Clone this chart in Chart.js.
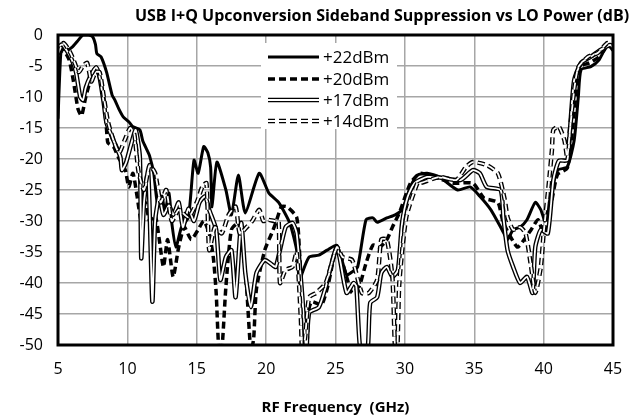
<!DOCTYPE html>
<html>
<head>
<meta charset="utf-8">
<script src="https://cdn.jsdelivr.net/npm/chart.js@4.4.1/dist/chart.umd.min.js"></script>
<style>
  html, body { margin: 0; padding: 0; background: #fff; }
  #wrap { width: 640px; height: 417px; }
</style>
</head>
<body>
<div id="wrap"><canvas id="c" width="640" height="417"></canvas></div>
<script>
const chartTitle = 'USB I+Q Upconversion Sideband Suppression vs LO Power (dB)'
const xTitle = 'RF Frequency  (GHz)'
const seriesLabels = ['+22dBm', '+20dBm', '+17dBm', '+14dBm']
const xTicks = [5, 10, 15, 20, 25, 30, 35, 40, 45]
const yTicks = [0, -5, -10, -15, -20, -25, -30, -35, -40, -45, -50]

// +22 dBm
const freq22 = [5, 5.2, 5.4, 5.6, 6, 6.4, 6.8, 7.2, 7.5, 7.7, 7.8, 8.1, 8.5, 8.9, 9.1, 9.4, 9.7, 10.1, 10.4, 10.9, 11.1, 11.4, 11.6, 11.9, 12.2, 12.5, 12.7, 13, 13.2, 13.5, 13.9, 14.4, 14.8, 15.1, 15.5, 15.8, 16, 16.1, 16.45, 17.1, 17.5, 18, 18.5, 19.5, 20.2, 20.9, 21.7, 22.2, 22.4, 22.6, 23.1, 23.8, 24.4, 25.1, 25.8, 26.2, 26.6, 27.2, 27.7, 28, 28.7, 29.3, 29.8, 30.4, 30.9, 31.6, 32.5, 33.8, 34.7, 35.4, 36.2, 37, 37.4, 37.8, 38.3, 38.8, 39.4, 39.8, 40.1, 40.5, 41, 41.7, 42.2, 42.5, 42.7, 43.4, 44, 44.6, 45]
const supp22 = [-13.5, -3, -2, -2.5, -2, -1, 0, 0, -0.3, -1.5, -3, -3.5, -6, -9.7, -10.5, -12, -13.2, -14, -14.8, -15.3, -17, -18.5, -19.5, -22.3, -27.7, -26, -28.7, -25.5, -30.3, -34.2, -31, -29.4, -20.2, -22.3, -18, -19, -21.3, -27.7, -20.5, -25, -29, -22.6, -28.7, -22.3, -25.5, -27, -30.3, -34.7, -40, -38.4, -35.8, -35.5, -34.7, -33.9, -38.7, -38.2, -37.4, -29.8, -29.5, -30.2, -29.5, -29, -28.2, -24.5, -22.6, -22.3, -22.9, -25, -24.5, -26, -28.2, -31.4, -33, -31.4, -31, -29.8, -27, -28.2, -30, -26, -21.8, -21.3, -17, -10, -5.6, -5.1, -4, -1.6, -2.5]

// +20 dBm
const freq20 = [5, 5.4, 5.8, 6.1, 6.45, 6.7, 7, 7.5, 7.75, 8, 8.3, 8.5, 8.6, 9, 9.35, 9.85, 10.1, 10.4, 10.7, 11, 11.3, 11.6, 12, 12.3, 12.6, 12.9, 13.3, 13.7, 14.1, 14.6, 15.1, 15.5, 15.9, 16.2, 16.4, 16.6, 16.8, 17.1, 17.5, 18, 18.3, 18.6, 18.9, 19.1, 19.3, 19.9, 20.4, 20.7, 21.1, 21.5, 22.2, 22.4, 22.6, 22.9, 23.1, 23.3, 24, 24.5, 25.1, 25.8, 26.2, 26.7, 27.2, 27.7, 28.2, 28.7, 29.1, 29.6, 30.4, 31.1, 32, 33.5, 34.9, 35.7, 36.7, 37.1, 38.1, 38.6, 39.1, 39.6, 40, 40.6, 41, 41.7, 42.1, 42.4, 42.7, 43.3, 44, 44.6, 45]
const supp20 = [-3, -2.5, -4, -7.3, -12, -13, -10, -6, -5.2, -7, -10, -15.3, -17.4, -18, -19.7, -21.8, -24.5, -22.3, -26, -30, -27, -30, -29, -33, -37.4, -33, -39, -34.2, -31, -33, -31.4, -30, -32, -36, -41.6, -51, -51, -40.6, -31.4, -30.3, -34, -41, -51, -49, -41, -34.7, -32, -30.3, -27.7, -27.7, -29.4, -34.7, -42.7, -51, -44, -43, -43.5, -40, -34.2, -39, -41.6, -40.6, -36.8, -33.9, -34.2, -33, -31, -28.7, -23.9, -22.3, -22.8, -23.9, -23.9, -26.3, -27, -30.3, -34.2, -33, -31.4, -29.8, -32, -26.6, -22.5, -21.5, -15, -8, -5, -4.5, -3.5, -1.8, -2]

// +17 dBm
const freq17 = [5, 5.3, 5.6, 6, 6.3, 6.6, 6.8, 7, 7.3, 7.75, 8, 8.3, 8.5, 9, 9.5, 9.6, 9.9, 10.3, 10.6, 10.9, 11, 11.2, 11.5, 11.8, 12, 12.3, 12.6, 13, 13.3, 13.7, 14, 14.4, 14.8, 15.2, 15.6, 15.9, 16.4, 16.7, 17.1, 17.5, 17.8, 18.2, 18.5, 18.9, 19.3, 19.9, 20.4, 20.7, 21.4, 21.9, 22.2, 22.6, 22.9, 23.1, 23.8, 24.3, 25.1, 25.8, 26.3, 26.5, 26.8, 27.3, 27.5, 28, 28.3, 28.7, 29.1, 29.5, 29.8, 30.2, 30.7, 31.6, 32.5, 34, 34.9, 35.4, 35.9, 36.9, 37.1, 37.4, 37.8, 38.3, 38.8, 39.2, 39.4, 39.8, 40.3, 40.7, 41.1, 41.7, 41.9, 42.2, 42.7, 43.4, 44.1, 44.8, 45]
const supp17 = [-2, -1.5, -2.4, -4, -6, -10, -10.5, -8.5, -6.8, -5.2, -6.8, -11, -14.2, -17, -19.7, -21.8, -20.6, -17.4, -15.3, -19.7, -36, -27, -22, -43, -30, -26, -29, -27.5, -29, -27, -31, -28, -30, -27, -26, -28.2, -31.4, -39.5, -35.8, -34.7, -42.3, -30.3, -38.4, -43.9, -38.4, -36.3, -37, -37.4, -31, -30.3, -32, -42, -51, -44.8, -43.9, -40.6, -34.3, -41.6, -40, -40.5, -51, -51, -43.2, -42.3, -38.4, -37.4, -39, -37.9, -30.3, -26.1, -23.9, -22.9, -23, -23.4, -21.8, -22.3, -24.5, -25, -29.4, -34.7, -37.4, -40, -39, -41.6, -34.2, -31.4, -32, -23.4, -20.3, -20.2, -15.3, -7.3, -4.5, -3.5, -2.4, -1.6, -2]

// +14 dBm
const freq14 = [5, 5.4, 5.9, 6.2, 6.5, 6.8, 7.1, 7.4, 7.7, 8, 8.3, 8.6, 9, 9.4, 9.8, 10.2, 10.5, 10.8, 11.2, 11.6, 12, 12.4, 12.8, 13.2, 13.7, 14.4, 15, 15.4, 15.7, 15.9, 16.3, 16.8, 17.3, 17.8, 18.1, 18.6, 19, 19.5, 19.8, 20.1, 20.6, 20.9, 21, 21.4, 21.9, 22.2, 22.5, 22.6, 22.8, 23.1, 23.6, 24.3, 25.1, 25.5, 26.2, 26.9, 27.4, 28, 28.3, 28.7, 29.1, 29.3, 29.45, 29.6, 30.1, 30.9, 31.1, 32.5, 33.7, 34.4, 34.9, 35.9, 36.7, 37.2, 37.4, 37.8, 38.3, 38.7, 39.1, 39.4, 39.8, 40, 40.4, 40.6, 40.7, 41.1, 41.5, 41.7, 41.9, 42.2, 42.5, 43.2, 43.9, 44.6, 45]
const supp14 = [-3, -1.3, -2.9, -4.5, -6, -5, -4.5, -7.5, -6, -6, -10, -14, -17, -19, -17, -15, -16, -22, -25, -21, -22.3, -27, -25, -30, -28.2, -29.4, -27, -24.5, -23.9, -34.7, -31, -32, -29, -27.7, -32, -31, -30, -28.2, -30, -29.8, -30, -30, -40, -37.9, -37.4, -35, -45.5, -51, -49, -42.3, -41.6, -40, -34.2, -35.8, -36.3, -41.6, -41.6, -39.5, -33, -33, -39, -51, -51, -40, -29.4, -23.9, -23.9, -22.9, -23.4, -21.3, -20.5, -21, -22.3, -26.6, -29.4, -31.4, -31, -32, -37.4, -41.6, -37.4, -32, -23.4, -18.5, -15.3, -14.8, -17, -19.7, -15.3, -8.9, -5.2, -3.5, -2.9, -1.3, -1.5]

const pts = (xs, ys) => xs.map((x, i) => ({ x, y: ys[i] }))
const FONT = "'Open Sans', 'Liberation Sans', sans-serif"
const DASH = [7, 4]

const styles = [
  { borderColor: '#000', borderWidth: 3 },
  { borderColor: '#000', borderWidth: 3.5, borderDash: DASH },
  { borderColor: '#000', borderWidth: 4.5, inner: { borderColor: '#fff', borderWidth: 1.8 } },
  { borderColor: '#000', borderWidth: 4.5, borderDash: DASH, inner: { borderColor: '#fff', borderWidth: 1.8, borderDash: DASH } }
]
const seriesData = [pts(freq22, supp22), pts(freq20, supp20), pts(freq17, supp17), pts(freq14, supp14)]

const datasets = []
seriesData.forEach((data, i) => {
  const s = styles[i]
  datasets.push({
    label: seriesLabels[i], data,
    borderColor: s.borderColor, borderWidth: s.borderWidth, borderDash: s.borderDash || [],
    order: 20 - i * 4
  })
  if (s.inner) {
    datasets.push({
      label: seriesLabels[i] + ' inner', data,
      borderColor: s.inner.borderColor, borderWidth: s.inner.borderWidth, borderDash: s.inner.borderDash || [],
      order: 19 - i * 4
    })
  }
})

function drawSample(ctx, s, x1, x2, y) {
  ctx.save()
  ctx.lineCap = 'butt'
  ctx.strokeStyle = s.borderColor
  ctx.lineWidth = s.borderWidth
  ctx.setLineDash(s.borderDash || [])
  ctx.beginPath(); ctx.moveTo(x1, y); ctx.lineTo(x2, y); ctx.stroke()
  if (s.inner) {
    ctx.strokeStyle = s.inner.borderColor
    ctx.lineWidth = s.inner.borderWidth
    ctx.setLineDash(s.inner.borderDash || [])
    ctx.beginPath(); ctx.moveTo(x1, y); ctx.lineTo(x2, y); ctx.stroke()
  }
  ctx.restore()
}

const decor = {
  id: 'decor',
  afterDatasetsDraw(chart) {
    const { ctx, chartArea: a } = chart
    // legend box
    ctx.save()
    ctx.fillStyle = '#fff'
    ctx.fillRect(261, 43, 136, 86)
    ctx.font = '17px ' + FONT
    ctx.fillStyle = '#000'
    ctx.textBaseline = 'middle'
    const rows = [57, 79, 100, 121]
    seriesLabels.forEach((lab, i) => {
      drawSample(ctx, styles[i], 268, 319, rows[i])
      ctx.fillText(lab, 323, rows[i] + 1)
    })
    // plot border
    ctx.strokeStyle = '#000'
    ctx.lineWidth = 3
    ctx.strokeRect(a.left, a.top, a.right - a.left, a.bottom - a.top)
    // title
    ctx.font = 'bold 16px ' + FONT
    ctx.textAlign = 'center'
    ctx.fillText(chartTitle, 382, 16)
    ctx.restore()
  }
}

new Chart(document.getElementById('c'), {
  type: 'line',
  data: { datasets },
  plugins: [decor],
  options: {
    responsive: false,
    animation: false,
    layout: { padding: { top: 35, right: 27, left: 0, bottom: 0 } },
    elements: { point: { radius: 0 }, line: { tension: 0.2, fill: false } },
    plugins: { legend: { display: false }, tooltip: { enabled: false }, title: { display: false } },
    scales: {
      x: {
        type: 'linear', min: 5, max: 45,
        afterBuildTicks: s => { s.ticks = xTicks.map(v => ({ value: v })) },
        afterFit: s => { s.height = 72 },
        grid: { color: '#a6a6a6', lineWidth: 1.5, drawTicks: false },
        border: { display: false },
        ticks: { padding: 15, color: '#000', font: { family: FONT, size: 16 } },
        title: { display: true, text: xTitle, color: '#000', padding: { top: 12, bottom: 0 }, font: { family: FONT, size: 15, weight: 'bold' } }
      },
      y: {
        type: 'linear', min: -50, max: 0,
        afterBuildTicks: s => { s.ticks = yTicks.map(v => ({ value: v })) },
        afterFit: s => { s.width = 58 },
        grid: { color: '#a6a6a6', lineWidth: 1.5, drawTicks: false },
        border: { display: false },
        ticks: { padding: 15, color: '#000', font: { family: FONT, size: 16 } }
      }
    }
  }
})
</script>
</body>
</html>
